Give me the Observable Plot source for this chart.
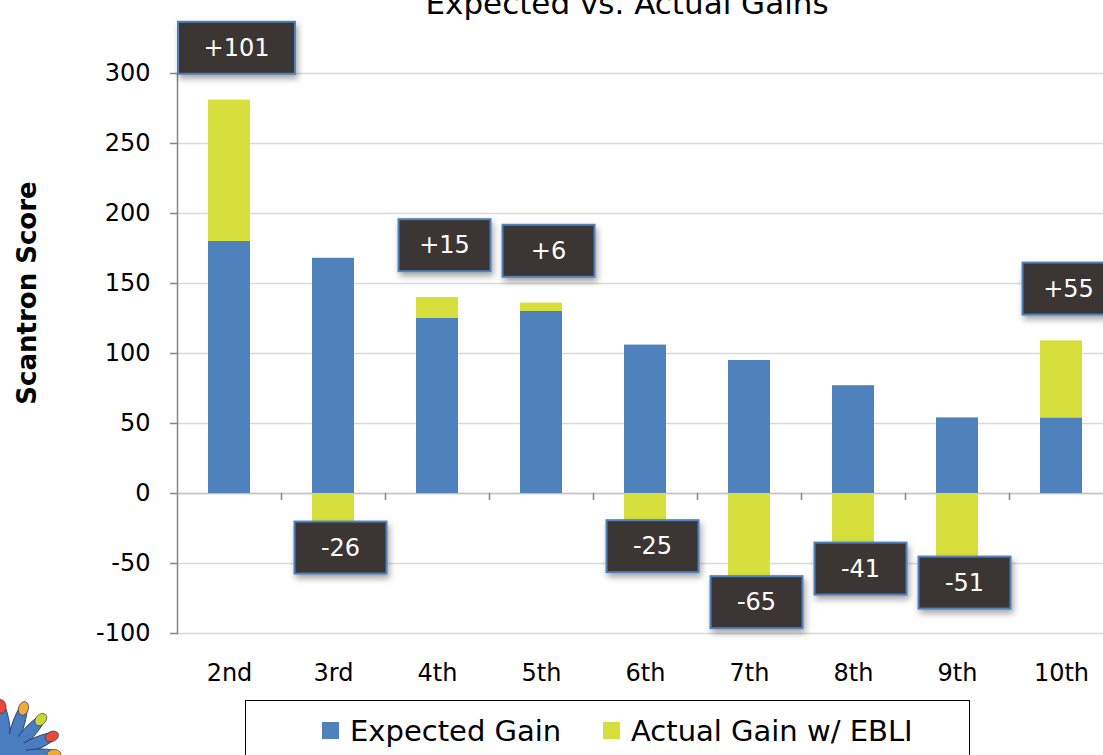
<!DOCTYPE html>
<html><head><meta charset="utf-8">
<script src="https://cdn.jsdelivr.net/npm/d3@7"></script>
<script src="https://cdn.jsdelivr.net/npm/@observablehq/plot@0.6"></script>
<style>
html,body{margin:0;padding:0;background:#fff;overflow:hidden;width:1103px;height:755px;}
#wrap{position:relative;width:1103px;height:755px;overflow:hidden;font-family:"DejaVu Sans",sans-serif;color:#000;}
#title{position:absolute;left:0;width:1254px;text-align:center;top:-12px;font-size:31px;line-height:31px;white-space:nowrap;}
#ytitle{position:absolute;left:27px;top:293px;transform:translate(-50%,-50%) rotate(-90deg);font-size:26px;font-weight:bold;white-space:nowrap;}
#chart{position:absolute;left:0;top:0;width:1113px;}
#chart svg{max-width:none !important;}
#legend{position:absolute;left:245px;top:700px;width:725px;height:70px;border:1.5px solid #000;box-sizing:border-box;}
.li{position:absolute;top:14px;font-size:29px;line-height:32px;white-space:nowrap;}
.sw{display:inline-block;width:17px;height:17px;margin-right:11px;vertical-align:2px;}
#logo{position:absolute;left:0;top:690px;}
</style></head>
<body><div id="wrap">
<div id="title">Expected vs. Actual Gains</div>
<div id="ytitle">Scantron Score</div>
<div id="chart"></div>
<div id="legend"></div>
<svg id="logo" width="70" height="65" viewBox="0 0 70 65">
  <g transform="translate(8,66)">
    <g fill="#4a7cc0" stroke="#1d3557" stroke-width="0.8">
      <ellipse cx="0" cy="-30" rx="6" ry="26" transform="rotate(-8)"/>
      <ellipse cx="0" cy="-30" rx="6" ry="26" transform="rotate(18)"/>
      <ellipse cx="0" cy="-30" rx="6" ry="25" transform="rotate(42)"/>
      <ellipse cx="0" cy="-30" rx="6" ry="24" transform="rotate(66)"/>
      <ellipse cx="0" cy="-30" rx="6" ry="22" transform="rotate(88)"/>
    </g>
    <g stroke="#1d3557" stroke-width="0.6">
      <ellipse cx="0" cy="-50" rx="5" ry="7" fill="#e8493a" transform="rotate(-8)"/>
      <ellipse cx="0" cy="-50" rx="5" ry="7" fill="#f2a93b" transform="rotate(18)"/>
      <ellipse cx="0" cy="-49" rx="5" ry="7" fill="#cbd53a" transform="rotate(42)"/>
      <ellipse cx="0" cy="-48" rx="5" ry="7" fill="#e8493a" transform="rotate(66)"/>
      <ellipse cx="0" cy="-46" rx="5" ry="7" fill="#f2a93b" transform="rotate(88)"/>
    </g>
    <circle cx="0" cy="-4" r="18" fill="#4a7cc0"/>
  </g>
</svg>
</div>
<script>
const grades = ["2nd","3rd","4th","5th","6th","7th","8th","9th","10th"];
const expectedGain = [180,168,125,130,106,95,77,54,54];
const actualGain = [101,-26,15,6,-25,-65,-41,-51,55];
const seriesNames = ["Expected Gain","Actual Gain w/ EBLI"];
const seriesColors = ["#4f81bd","#d6df3b"];
const yTicks = [-100,-50,0,50,100,150,200,250,300];

const bars = grades.flatMap((g,i)=>[
  {grade:g, series:seriesNames[0], value:expectedGain[i]},
  {grade:g, series:seriesNames[1], value:actualGain[i]}
]);
const labels = grades.map((g,i)=>({
  grade:g, value:actualGain[i],
  end: actualGain[i] > 0 ? expectedGain[i] + actualGain[i] : actualGain[i],
  text: (actualGain[i] > 0 ? "+" : "") + actualGain[i]
}));

const font = '"DejaVu Sans", sans-serif';
const chart = Plot.plot({
  width: 1113, height: 695,
  marginLeft: 177, marginRight: 0, marginTop: 73, marginBottom: 62,
  style: {fontFamily: font, fontSize: "24px", color: "#000", background: "transparent", overflow: "visible", maxWidth: "none"},
  x: {domain: grades, paddingInner: 0.6, paddingOuter: 0.3, axis: null, label: null},
  y: {domain: [-100, 300], axis: null, label: null},
  color: {domain: seriesNames, range: seriesColors},
  marks: [
    Plot.ruleY(yTicks, {stroke: "#d9d9d9", strokeWidth: 1.5}),
    Plot.ruleY([0], {stroke: "#c4c4c4", strokeWidth: 1.5}),
    Plot.barY(bars, {x: "grade", y: "value", fill: "series"}),
    Plot.ruleX(grades.slice(0, -1), {x: d => d, y1: d => 0, y2: d => 0, insetBottom: -7, dx: 52, stroke: "#868686", strokeWidth: 1.5}),
    Plot.frame({anchor: "left", stroke: "#868686", strokeWidth: 1.5}),
    Plot.axisY({ticks: yTicks, tickSize: 7, tickPadding: 20, stroke: "#868686", strokeWidth: 1.5, fontSize: 24, label: null, tickFormat: d => String(d)}),
    Plot.axisX({tickSize: 0, tickPadding: 30, fontSize: 24, label: null}),
    Plot.text(labels.filter(d => d.value > 0), {x: "grade", y: "end", text: "text", dx: 7, dy: -52, fill: "#fff", fontSize: 24, className: "boxlabel"}),
    Plot.text(labels.filter(d => d.value < 0), {x: "grade", y: "end", text: "text", dx: 7, dy: 18, fill: "#fff", fontSize: 24, className: "boxlabel"})
  ]
});
chart.style.maxWidth = "none";
document.getElementById("chart").append(chart);

// draw the dark label boxes behind each label text
chart.querySelectorAll(".boxlabel text").forEach(t => {
  const bb = t.getBBox();
  const w = t.textContent.length >= 4 ? 117 : 92, h = 52;
  const cx = bb.x + bb.width / 2, cy = bb.y + bb.height / 2;
  const r = document.createElementNS("http://www.w3.org/2000/svg", "rect");
  r.setAttribute("x", cx - w / 2);
  r.setAttribute("y", cy - h / 2);
  r.setAttribute("width", w);
  r.setAttribute("height", h);
  r.setAttribute("fill", "#3b3634");
  r.setAttribute("stroke", "#4f81bd");
  r.setAttribute("stroke-width", 2);
  r.setAttribute("style", "filter: drop-shadow(2px 4px 3px rgba(0,0,0,0.35))");
  if (t.getAttribute("transform")) r.setAttribute("transform", t.getAttribute("transform"));
  t.parentNode.insertBefore(r, t);
});

// legend
const legend = document.getElementById("legend");
const legendLeft = [76, 357];
seriesNames.forEach((s, i) => {
  const item = document.createElement("div");
  item.className = "li";
  item.style.left = legendLeft[i] + "px";
  item.innerHTML = `<span class="sw" style="background:${seriesColors[i]}"></span>${s}`;
  legend.append(item);
});
</script>
</body></html>
